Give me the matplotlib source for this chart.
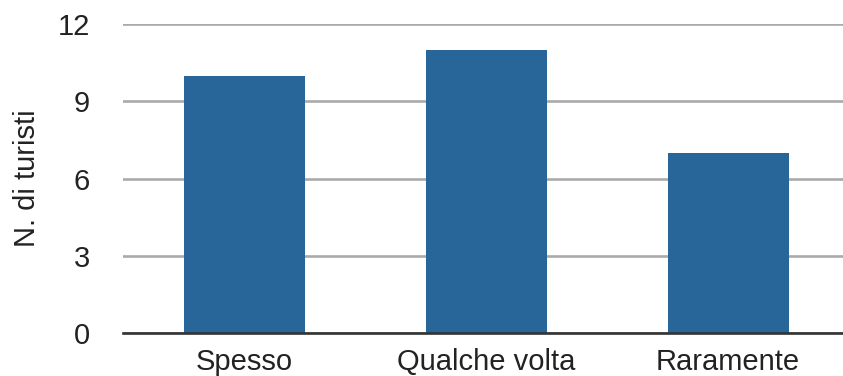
import matplotlib.pyplot as plt

categorie = ["Spesso", "Qualche volta", "Raramente"]
turisti = [10, 11, 7]
tick_y = [0, 3, 6, 9, 12]

plt.rcParams['font.family'] = ['Liberation Sans', 'DejaVu Sans']

fig = plt.figure(figsize=(8.43, 3.76), dpi=100)
ax = fig.add_axes([0.146, 0.114, 0.854, 0.822])

# barre
ax.bar(range(len(categorie)), turisti, width=0.5, color='#286598', zorder=3)

# griglia orizzontale grigia
ax.set_ylim(0, 12)
ax.set_yticks(tick_y)
ax.yaxis.grid(True, color='#aaaaaa', linewidth=1.9, zorder=0)
ax.set_xlim(-0.5, 2.475)
ax.set_xticks(range(len(categorie)))
ax.set_xticklabels(categorie)

for lato in ['top', 'right', 'left']:
    ax.spines[lato].set_visible(False)
ax.spines['bottom'].set_color('#333333')
ax.spines['bottom'].set_linewidth(1.9)
ax.spines['bottom'].set_zorder(4)

ax.tick_params(axis='y', length=0, pad=24, labelsize=21, labelcolor='#222222')
ax.tick_params(axis='x', length=0, pad=11, labelsize=21, labelcolor='#222222')
ax.set_ylabel("N. di turisti", fontsize=21, color='#222222', labelpad=12)

fig.savefig("out.png", dpi=100)
